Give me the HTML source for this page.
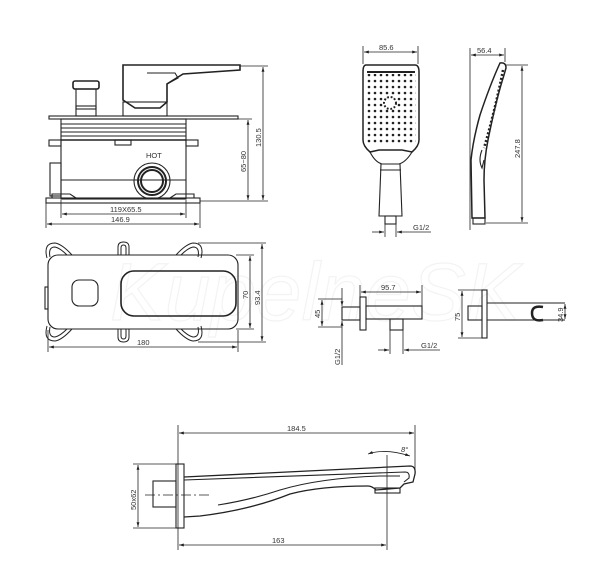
<!DOCTYPE html>
<html><head><meta charset="utf-8">
<style>
html,body{margin:0;padding:0;background:#fff;}
svg{display:block;}
text{font-family:"Liberation Sans",sans-serif;fill:#333;}
</style></head>
<body>
<svg width="600" height="577" viewBox="0 0 600 577" xmlns="http://www.w3.org/2000/svg">
<defs>
<marker id="a" viewBox="0 0 10 10" refX="10" refY="5" markerWidth="6" markerHeight="6" orient="auto-start-reverse"><path d="M0,2 L10,5 L0,8 z" fill="#222"/></marker>
<pattern id="dots" width="6" height="6" patternUnits="userSpaceOnUse"><circle cx="3" cy="3" r="1.3" fill="#222"/></pattern>
</defs>

<!-- watermark -->
<text x="110" y="320" font-size="82" font-style="italic" fill="none" stroke="#f3f3f3" stroke-width="1.2" style="fill:none">KupelneSK</text>

<g fill="none" stroke="#222" stroke-width="1.1">
<!-- ===== Mixer side view ===== -->
<rect x="49" y="116" width="189" height="3"/>
<path d="M123,65 L123,100 L135,108 L160,108 L167,102 L167,84 L183,74 L240,70 L240,65 Z" stroke-width="1.6"/>
<path d="M147,73 L175,73 L178,78 L167,84"/>
<rect x="123" y="102" width="44" height="14"/>
<rect x="73" y="81" width="26" height="8" rx="2" stroke-width="1.6"/>
<rect x="76" y="89" width="20" height="20"/>
<rect x="76" y="106" width="20" height="10"/>
<rect x="61" y="119" width="125" height="80"/>
<line x1="61" y1="124" x2="186" y2="124"/><line x1="61" y1="128" x2="186" y2="128"/>
<line x1="61" y1="132" x2="186" y2="132"/><line x1="61" y1="136" x2="186" y2="136"/>
<line x1="61" y1="140" x2="186" y2="140" stroke-width="1.6"/>
<rect x="49" y="140" width="12" height="6"/><rect x="186" y="140" width="12" height="6"/>
<rect x="115" y="140" width="16" height="5"/>
<rect x="50" y="163" width="11" height="33"/>
<line x1="61" y1="180" x2="186" y2="180"/>
<circle cx="152" cy="181" r="18"/><circle cx="152" cy="181" r="14" stroke-width="2"/><circle cx="152" cy="181" r="11" stroke-width="2"/>
<rect x="46" y="198" width="154" height="5"/>
<path d="M52,198 L52,194 L70,194 L76,198 M194,198 L194,194 L176,194 L170,198"/>
<g stroke-width="0.8">
<line x1="61" y1="200" x2="61" y2="218"/><line x1="186" y1="200" x2="186" y2="218"/>
<line x1="46" y1="203" x2="46" y2="228"/><line x1="200" y1="203" x2="200" y2="228"/>
<line x1="62" y1="214" x2="185" y2="214" marker-start="url(#a)" marker-end="url(#a)"/>
<line x1="47" y1="224" x2="199" y2="224" marker-start="url(#a)" marker-end="url(#a)"/>
<line x1="186" y1="119" x2="252" y2="119"/><line x1="200" y1="201" x2="268" y2="201"/>
<line x1="240" y1="66" x2="268" y2="66"/>
<line x1="248" y1="120" x2="248" y2="200" marker-start="url(#a)" marker-end="url(#a)"/>
<line x1="263" y1="67" x2="263" y2="200" marker-start="url(#a)" marker-end="url(#a)"/>
</g>

<!-- ===== Front plate ===== -->
<rect x="48" y="255" width="190" height="74" rx="10"/>
<rect x="72" y="280" width="26" height="26" rx="7"/>
<rect x="121" y="271" width="115" height="45" rx="13" stroke-width="1.6"/>
<rect x="45" y="287" width="3" height="22"/>
<!-- lugs -->
<g stroke-width="1">
<path d="M47,258 Q43,243 55,243 Q62,244 72,255"/>
<path d="M50,257 Q48,247 55,247 Q60,248 67,255"/>
<path d="M47,326 Q43,341 55,341 Q62,340 72,329"/>
<path d="M50,327 Q48,337 55,337 Q60,336 67,329"/>
<path d="M201,258 Q205,243 193,243 Q186,244 176,255"/>
<path d="M198,257 Q200,247 193,247 Q188,248 181,255"/>
<path d="M201,326 Q205,341 193,341 Q186,340 176,329"/>
<path d="M198,327 Q200,337 193,337 Q188,336 181,329"/>
<path d="M118,255 L118,247 Q118,242 123.5,242 Q129,242 129,247 L129,255"/>
<path d="M121,255 L121,248 Q121,245 123.5,245 Q126,245 126,248 L126,255"/>
<path d="M118,329 L118,337 Q118,342 123.5,342 Q129,342 129,337 L129,329"/>
<path d="M121,329 L121,336 Q121,339 123.5,339 Q126,339 126,336 L126,329"/>
</g>
<g stroke-width="0.8">
<line x1="198" y1="243" x2="266" y2="243"/><line x1="198" y1="342" x2="266" y2="342"/>
<line x1="236" y1="255" x2="254" y2="255"/><line x1="236" y1="329" x2="254" y2="329"/>
<line x1="250" y1="256" x2="250" y2="328" marker-start="url(#a)" marker-end="url(#a)"/>
<line x1="262" y1="244" x2="262" y2="341" marker-start="url(#a)" marker-end="url(#a)"/>
<line x1="48" y1="330" x2="48" y2="352"/><line x1="238" y1="330" x2="238" y2="352"/>
<line x1="49" y1="347" x2="237" y2="347" marker-start="url(#a)" marker-end="url(#a)"/>
</g>

<!-- ===== Hand shower front ===== -->
<path d="M366,65 L415,65 Q419,65 419,72 L419,140 Q419,146 412,152 L402,150 L379,150 L370,152 Q363,146 363,140 L363,72 Q363,65 366,65 Z" stroke-width="1.5"/>
<path d="M367,72 L415,72" stroke-width="2"/>
<rect x="366" y="74" width="50" height="70" fill="url(#dots)" stroke="none"/>
<circle cx="390" cy="103" r="6" fill="#fff" stroke="none"/>
<circle cx="390" cy="103" r="6" stroke-dasharray="1.8 1.8" stroke-width="2"/>
<path d="M370,152 Q375,162 382,164 L399,164 Q406,162 412,152"/>
<path d="M381,164 L379,216 L402,216 L400,164"/>
<line x1="380" y1="170" x2="401" y2="170"/>
<rect x="385" y="216" width="11" height="8"/>
<g stroke-width="0.8">
<line x1="363" y1="46" x2="363" y2="64"/><line x1="418" y1="46" x2="418" y2="64"/>
<line x1="364" y1="52" x2="417" y2="52" marker-start="url(#a)" marker-end="url(#a)"/>
<line x1="385" y1="224" x2="385" y2="237"/><line x1="396" y1="224" x2="396" y2="237"/>
<line x1="372" y1="232" x2="384" y2="232" marker-end="url(#a)"/>
<line x1="431" y1="232" x2="397" y2="232" marker-end="url(#a)"/>
</g>

<!-- ===== Hand shower side ===== -->
<path d="M500,63 Q506,62 506,68 L504,75 Q496,100 488,140 Q484,160 484,180 L485,218 L472,218 L471,160 Q473,140 480,115 Q490,85 500,63 Z" stroke-width="1.5"/>
<path d="M503,70 Q495,110 484,148" stroke-dasharray="2 2" stroke-width="2.5"/>
<path d="M482,150 Q478,160 482,168 L484,160"/>
<rect x="473" y="218" width="12" height="6"/>
<g stroke-width="0.8">
<line x1="470" y1="48" x2="470" y2="230"/><line x1="505" y1="48" x2="505" y2="62"/>
<line x1="471" y1="55" x2="504" y2="55" marker-start="url(#a)" marker-end="url(#a)"/>
<line x1="506" y1="65" x2="528" y2="65"/><line x1="486" y1="223" x2="528" y2="223"/>
<line x1="522" y1="66" x2="522" y2="222" marker-start="url(#a)" marker-end="url(#a)"/>
</g>

<!-- ===== Wall elbow ===== -->
<rect x="360" y="297" width="6" height="33"/>
<rect x="342" y="307" width="18" height="13"/>
<rect x="366" y="306" width="56" height="13"/>
<rect x="390" y="319" width="13" height="11"/>
<g stroke-width="0.8">
<line x1="318" y1="299" x2="342" y2="299"/><line x1="318" y1="327" x2="342" y2="327"/>
<line x1="322" y1="300" x2="322" y2="326" marker-start="url(#a)" marker-end="url(#a)"/>
<line x1="342" y1="288" x2="342" y2="306" marker-end="url(#a)"/>
<line x1="342" y1="365" x2="342" y2="321" marker-end="url(#a)"/>
<line x1="360" y1="285" x2="360" y2="297"/><line x1="422" y1="285" x2="422" y2="306"/>
<line x1="361" y1="292" x2="421" y2="292" marker-start="url(#a)" marker-end="url(#a)"/>
<line x1="390" y1="330" x2="390" y2="354"/><line x1="403" y1="330" x2="403" y2="354"/>
<line x1="378" y1="350" x2="389" y2="350" marker-end="url(#a)"/>
<line x1="440" y1="350" x2="404" y2="350" marker-end="url(#a)"/>
</g>

<!-- ===== Hook ===== -->
<rect x="482" y="290" width="5" height="48"/>
<rect x="468" y="306" width="14" height="14"/>
<line x1="487" y1="303" x2="565" y2="303"/><line x1="487" y1="320" x2="565" y2="320"/>
<path d="M543,307 Q532,305 532,313 Q532,322 543,320" stroke-width="2.5"/>
<g stroke-width="0.8">
<line x1="458" y1="290" x2="482" y2="290"/><line x1="458" y1="338" x2="482" y2="338"/>
<line x1="462" y1="291" x2="462" y2="337" marker-start="url(#a)" marker-end="url(#a)"/>
<line x1="565" y1="304" x2="565" y2="319" marker-start="url(#a)" marker-end="url(#a)"/>
</g>

<!-- ===== Spout ===== -->
<rect x="176" y="464" width="8" height="64"/>
<rect x="153" y="481" width="23" height="26"/>
<line x1="145" y1="495" x2="210" y2="495" stroke-width="0.8" stroke-dasharray="10 3 2 3"/>
<path d="M184,477 L410,466 Q416,466 415,474 L413,482 L404,484 L400,488 L376,490 Q372,486 368,486 Q320,486 290,494 Q250,510 200,516 L184,517" stroke-width="1.3"/>
<path d="M184,480 L405,472 Q410,472 409,478 L404,482"/>
<path d="M218,505 Q250,500 280,490 Q320,478 380,476 L400,476"/>
<rect x="375" y="488" width="25" height="5"/>
<g stroke-width="0.8">
<line x1="178" y1="425" x2="178" y2="550"/>
<line x1="415" y1="425" x2="415" y2="470"/>
<line x1="387" y1="455" x2="387" y2="550"/>
<line x1="179" y1="433" x2="414" y2="433" marker-start="url(#a)" marker-end="url(#a)"/>
<line x1="179" y1="545" x2="386" y2="545" marker-start="url(#a)" marker-end="url(#a)"/>
<line x1="133" y1="464" x2="176" y2="464"/><line x1="133" y1="528" x2="176" y2="528"/>
<line x1="138" y1="465" x2="138" y2="527" marker-start="url(#a)" marker-end="url(#a)"/>
<path d="M368,454 Q385,448 410,456" marker-start="url(#a)" marker-end="url(#a)"/>
</g>
</g>

<!-- labels -->
<g font-size="7.5">
<text x="146" y="158">HOT</text>
<text x="110" y="212">119X65.5</text>
<text x="111" y="222">146.9</text>
<text transform="translate(246,172) rotate(-90)">65~80</text>
<text transform="translate(261,147) rotate(-90)">130.5</text>
<text transform="translate(248,299) rotate(-90)">70</text>
<text transform="translate(260,305) rotate(-90)">93.4</text>
<text x="137" y="345">180</text>
<text x="379" y="50">85.6</text>
<text x="413" y="230">G1/2</text>
<text x="477" y="53">56.4</text>
<text transform="translate(520,158) rotate(-90)">247.8</text>
<text x="381" y="290">95.7</text>
<text transform="translate(320,318) rotate(-90)">45</text>
<text transform="translate(340,365) rotate(-90)">G1/2</text>
<text x="421" y="348">G1/2</text>
<text transform="translate(460,321) rotate(-90)">75</text>
<text transform="translate(563,322) rotate(-90)">34.9</text>
<text x="287" y="431">184.5</text>
<text x="272" y="543">163</text>
<text transform="translate(136,510) rotate(-90)">50x62</text>
<text x="401" y="452" font-style="italic">8°</text>
</g>
</svg>
</body></html>
